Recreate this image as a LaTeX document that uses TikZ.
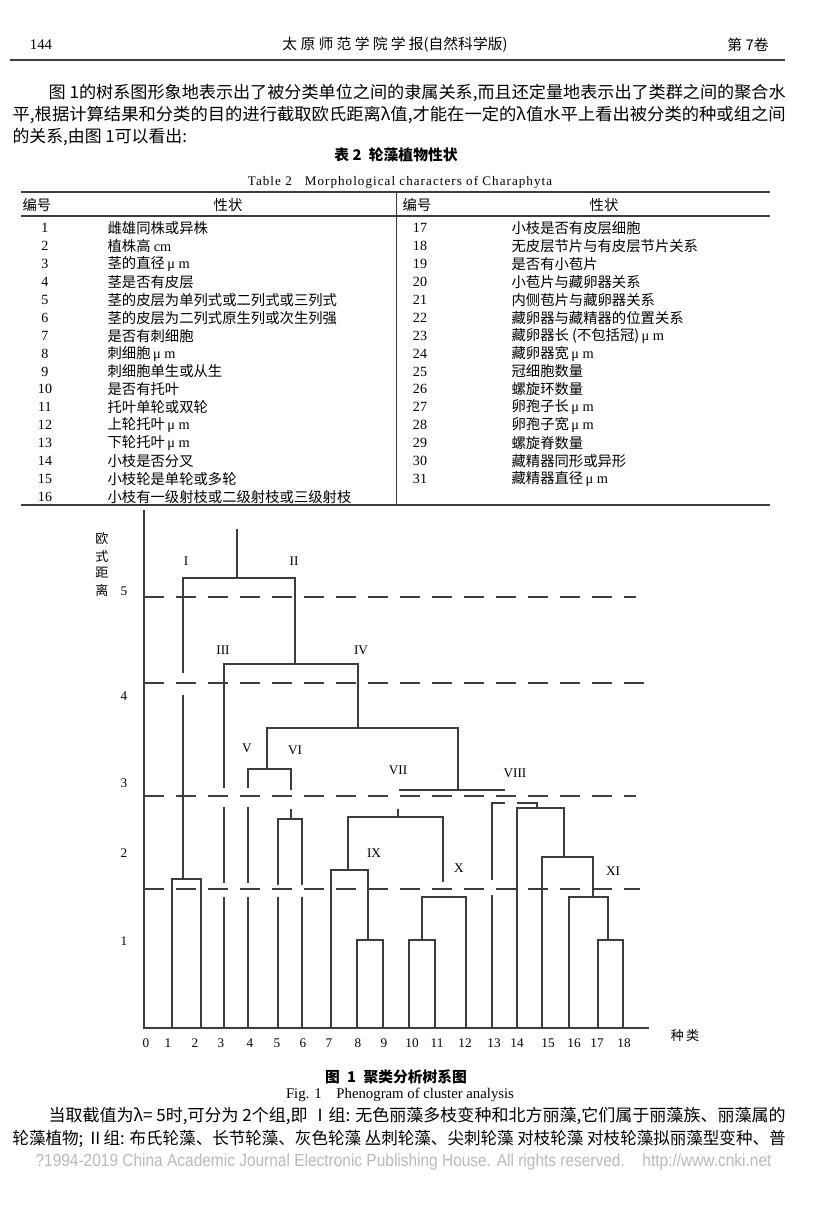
\documentclass[tikz,border=0pt]{standalone}
\usepackage{graphicx}
\usepackage{fontspec}
\setmainfont{Liberation Serif}
\newfontfamily\cjk{Noto Sans CJK SC}
\newfontfamily\spacedrm[LetterSpace=8]{Liberation Serif}
\newfontfamily\narrowsf[FakeStretch=0.88]{Liberation Sans}
\newcommand\umeter{{\rmfamily\,μ m}}
\newcommand\fitline[2]{\resizebox{#1}{\height}{#2}}
\definecolor{cnkigray}{RGB}{185,185,185}
\definecolor{ink}{RGB}{60,60,60}
\tikzset{
  body/.style={anchor=west, inner sep=0pt, font=\cjk\fontsize{12pt}{14pt}\selectfont},
  cell/.style={anchor=west, inner sep=0pt, font=\cjk\fontsize{10.2pt}{12pt}\selectfont},
  num/.style={inner sep=0pt, font=\fontsize{10pt}{12pt}\selectfont},
  tick/.style={inner sep=0pt, font=\fontsize{9.4pt}{11pt}\selectfont},
  cut/.style={dash pattern=on 5mm off 3mm},
}

\begin{document}
\begin{tikzpicture}[x=0.25mm, y=-0.25mm, line width=0.3mm, draw=ink]
\useasboundingbox (0,0) rectangle (821,1213);
% running head
\node[num] (page) at (41,45) {\fontsize{10.5pt}{12pt}\selectfont 144};
\node[inner sep=0pt, font=\cjk\fontsize{10.5pt}{12pt}\selectfont] (journal) at (395,45) {太 原 师 范 学 院 学 报(自然科学版)};
\node[inner sep=0pt, font=\cjk\fontsize{10.5pt}{12pt}\selectfont] (vol) at (748,45) {第 7卷};
\draw[line width=0.35mm] (10,60) -- (785,60);
% text above the table
\node[body] (p1) at (48,93) {\fitline{184.25mm}{图 1的树系图形象地表示出了被分类单位之间的隶属关系,而且还定量地表示出了类群之间的聚合水}};
\node[body] (p2) at (12,115) {\fitline{193.25mm}{平,根据计算结果和分类的目的进行截取欧氏距离λ值,才能在一定的λ值水平上看出被分类的种或组之间}};
\node[body] (p3) at (12,137) {的关系,由图 1可以看出:};
% table 2
\node[inner sep=0pt, font=\cjk\bfseries\fontsize{10.5pt}{12pt}\selectfont] (tabcap) at (396,155) {表 2\enspace 轮藻植物性状};
\node[inner sep=0pt, font=\spacedrm\fontsize{9.3pt}{11pt}\selectfont] (tabcapen) at (400,182) {Table 2\quad Morphological characters of Charaphyta};
\draw[line width=0.45mm] (21,192) -- (770,192);
\draw[line width=0.3mm] (21,216) -- (770,216);
\draw[line width=0.45mm] (21,505) -- (770,505);
\draw[line width=0.25mm] (396,192) -- (396,505);
\node[cell, anchor=center] (h1) at (37,205) {编号};
\node[cell, anchor=center] (h2) at (228,205) {性状};
\node[cell, anchor=center] (h3) at (417,205) {编号};
\node[cell, anchor=center] (h4) at (604,205) {性状};
%
\foreach \n/\t in {1/雌雄同株或异株, 2/植株高 {\rmfamily cm}, 3/茎的直径\umeter, 4/茎是否有皮层,
  5/茎的皮层为单列式或二列式或三列式, 6/茎的皮层为二列式原生列或次生列强, 7/是否有刺细胞,
  8/刺细胞\umeter, 9/刺细胞单生或从生, 10/是否有托叶, 11/托叶单轮或双轮, 12/上轮托叶\umeter,
  13/下轮托叶\umeter, 14/小枝是否分叉, 15/小枝轮是单轮或多轮, 16/小枝有一级射枝或二级射枝或三级射枝}
{
  \node[num] (n\n) at (45,{228+(\n-1)*17.93}) {\n};
  \node[cell] (c\n) at (107,{228+(\n-1)*17.93}) {\t};
}
\foreach \n/\t in {17/小枝是否有皮层细胞, 18/无皮层节片与有皮层节片关系, 19/是否有小苞片,
  20/小苞片与藏卵器关系, 21/内侧苞片与藏卵器关系, 22/藏卵器与藏精器的位置关系,
  23/藏卵器长 (不包括冠)\umeter, 24/藏卵器宽\umeter, 25/冠细胞数量, 26/螺旋环数量,
  27/卵孢子长\umeter, 28/卵孢子宽\umeter, 29/螺旋脊数量, 30/藏精器同形或异形, 31/藏精器直径\umeter}
{
  \node[num] (n\n) at (420,{228+(\n-17)*17.93}) {\n};
  \node[cell] (c\n) at (511,{228+(\n-17)*17.93}) {\t};
}
% figure 1: axes
\draw (144,510) -- (144,1028) -- (649,1028);
\foreach \c/\y in {欧/539, 式/557, 距/573, 离/590}
  \node[inner sep=0pt, font=\cjk\fontsize{9.3pt}{11pt}\selectfont] (ax\y) at (102,\y) {\c};
\foreach \v/\y in {5/591, 4/696, 3/783, 2/853, 1/941}
  \node[tick] (yt\v) at (124,\y) {\v};
\foreach \v/\x in {0/146, 1/168, 2/195, 3/221, 4/250, 5/277, 6/303, 7/329, 8/358, 9/384,
  10/412, 11/437, 12/465, 13/494, 14/517, 15/548, 16/574, 17/597, 18/624}
  \node[tick] (xt\v) at (\x,1043) {\v};
\node[inner sep=0pt, font=\cjk\fontsize{9.3pt}{11pt}\selectfont] (species) at (685,1036) {种\,类};
% cut levels
\draw[cut] (144,597) -- (636,597);
\draw[cut] (144,683) -- (647,683);
\draw[cut] (144,796) -- (636,796);
\draw[cut] (144,889) -- (640,889);
% I and II
\draw (237,529) -- (237,578);
\draw (183,673) -- (183,578) -- (295,578) -- (295,664);
\draw (183,695) -- (183,879);
\draw (172,1028) -- (172,879) -- (201,879) -- (201,1028);
% III and IV
\draw (224,788) -- (224,664) -- (358,664) -- (358,728);
\draw (224,807) -- (224,883) (224,897) -- (224,1028);
\draw (458,790) -- (458,728) -- (267,728) -- (267,769);
% V and VI
\draw (248,788) -- (248,769) -- (291,769) -- (291,790);
\draw (248,807) -- (248,883) (248,897) -- (248,1028);
\draw (291,809) -- (291,819);
\draw (278,885) -- (278,819) -- (302,819) -- (302,885);
\draw (278,897) -- (278,1028) (302,897) -- (302,1028);
% VII, IX and X
\draw (399,790) -- (505,790);
\draw (398,809) -- (398,817);
\draw (348,870) -- (348,817) -- (443,817) -- (443,882);
\draw (331,1028) -- (331,870) -- (368,870) -- (368,940);
\draw (357,1028) -- (357,940) -- (383,940) -- (383,1028);
\draw (409,1028) -- (409,940) -- (435,940) -- (435,1028);
\draw (422,940) -- (422,897) -- (466,897) -- (466,1028);
% VIII and XI
\draw (492,880) -- (492,803) -- (505,803) (517,803) -- (537,803) -- (537,808);
\draw (492,895) -- (492,1028);
\draw (517,1028) -- (517,808) -- (564,808) -- (564,857);
\draw (542,1028) -- (542,857) -- (593,857) -- (593,897);
\draw (569,1028) -- (569,897) -- (608,897) -- (608,940);
\draw (598,1028) -- (598,940) -- (623,940) -- (623,1028);
%
\node[tick] (gI) at (186,561) {I};
\node[tick] (gII) at (294,561) {II};
\node[tick] (gIII) at (223,650) {III};
\node[tick] (gIV) at (361,650) {IV};
\node[tick] (gV) at (247,748) {V};
\node[tick] (gVI) at (295,750) {VI};
\node[tick] (gVII) at (398,770) {VII};
\node[tick] (gVIII) at (515,773) {VIII};
\node[tick] (gIX) at (374,853) {IX};
\node[tick] (gX) at (459,868) {X};
\node[tick] (gXI) at (613,871) {XI};
% captions and text below
\node[inner sep=0pt, font=\cjk\bfseries\fontsize{10.5pt}{12pt}\selectfont] (figcap) at (396,1077) {图\enspace 1\enspace 聚类分析树系图};
\node[inner sep=0pt, font=\fontsize{10.5pt}{12pt}\selectfont] (figcapen) at (400,1095) {Fig. 1\quad Phenogram of cluster analysis};
\node[body] (q1) at (48,1116) {\fitline{184.25mm}{当取截值为λ= 5时,可分为 2个组,即 Ⅰ组: 无色丽藻多枝变种和北方丽藻,它们属于丽藻族、丽藻属的}};
\node[body] (q2) at (12,1139) {\fitline{193.25mm}{轮藻植物; Ⅱ组: 布氏轮藻、长节轮藻、灰色轮藻 丛刺轮藻、尖刺轮藻 对枝轮藻 对枝轮藻拟丽藻型变种、普}};
\node[inner sep=0pt, anchor=west, text=cnkigray, font=\narrowsf\fontsize{12.5pt}{14pt}\selectfont] (copy) at (35,1162) {?1994-2019 China Academic Journal Electronic Publishing House. All rights reserved.\quad http://www.cnki.net};
\end{tikzpicture}
\end{document}
